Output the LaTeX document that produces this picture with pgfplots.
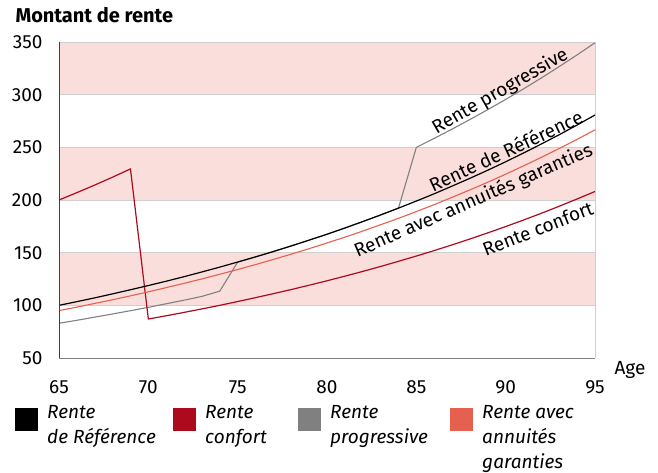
\documentclass[border=0pt]{standalone}
\usepackage{fontspec}
\setmainfont{Fira Sans}
\usepackage{pgfplots}
\usepackage{pgfplotstable}
\pgfplotsset{compat=1.18}
\definecolor{refc}{HTML}{000000}
\definecolor{conf}{HTML}{AE0A1E}
\definecolor{prog}{HTML}{808080}
\definecolor{gar}{HTML}{E5604E}
\definecolor{band}{HTML}{FADEDB}
\definecolor{edge}{HTML}{CFCFCF}

\pgfplotstableread{
age ref gar
65 100.0 95.0
66 103.5 98.3
67 107.1 101.8
68 110.9 105.3
69 114.8 109.0
70 118.8 112.8
71 122.9 116.8
72 127.2 120.9
73 131.7 125.1
74 136.3 129.5
75 141.1 134.0
76 146.0 138.7
77 151.1 143.6
78 156.4 148.6
79 161.9 153.8
80 167.5 159.2
81 173.4 164.7
82 179.5 170.5
83 185.8 176.5
84 192.3 182.6
85 199.0 189.0
86 205.9 195.6
87 213.2 202.5
88 220.6 209.6
89 228.3 216.9
90 236.3 224.5
91 244.6 232.4
92 253.2 240.5
93 262.0 248.9
94 271.2 257.6
95 280.7 266.6
}\tabmain

\pgfplotstableread{
age val
65 200.0
66 207.0
67 214.2
68 221.7
69 229.5
70 87.0
71 90.1
72 93.3
73 96.6
74 100.0
75 103.6
76 107.3
77 111.1
78 115.0
79 119.1
80 123.3
81 127.7
82 132.2
83 136.9
84 141.8
85 146.8
86 152.0
87 157.4
88 163.0
89 168.8
90 174.8
91 181.0
92 187.4
93 194.1
94 201.0
95 208.1
}\tabconf

\pgfplotstableread{
age val
65 83.0
66 85.8
67 88.8
68 91.8
69 94.9
70 98.1
71 101.5
72 104.9
73 108.5
74 113.5
75 141.1
76 146.0
77 151.1
78 156.4
79 161.9
80 167.5
81 173.4
82 179.5
83 185.8
84 192.3
85 250.0
86 258.5
87 267.3
88 276.4
89 285.8
90 295.5
91 305.5
92 315.9
93 326.7
94 337.8
95 349.3
}\tabprog

\begin{document}
\begin{tikzpicture}[x=1pt,y=1pt]
\useasboundingbox (0,0) rectangle (658,472);
\begin{axis}[
  at={(59pt,114pt)}, anchor=south west,
  scale only axis, width=536pt, height=316pt,
  xmin=65, xmax=95, ymin=50, ymax=350,
  axis on top,
  axis x line=bottom, axis y line=left,
  x axis line style={-, draw=black!50, line width=0.8pt},
  y axis line style={-, draw=black!75, line width=0.8pt},
  xtick={65,70,...,95}, ytick={50,100,...,350},
  major tick length=0pt,
  /pgf/number format/assume math mode=true,
  tick label style={font=\fontsize{19}{23}\selectfont},
  xticklabel style={anchor=north, yshift=-19pt},
  yticklabel style={anchor=east, xshift=-13pt},
  clip=false,
  legend columns=4,
  legend style={at={(rel axis cs:-0.082,-0.148)}, anchor=north west,
    draw=none, fill=none, inner sep=0pt, row sep=0pt,
    font=\fontsize{19}{25}\selectfont\itshape,
    cells={anchor=north west},
    /tikz/every odd column/.style={column sep=9pt},
    /tikz/every even column/.style={column sep=0pt},
    nodes={inner sep=0pt}},
  legend image code/.code={\fill[#1] (0pt,-3pt) rectangle (23pt,-26pt);},
]
% background bands
\addplot[fill=band, draw=edge, line width=0.8pt, forget plot] coordinates {(65,300) (95,300) (95,350) (65,350)} -- cycle;
\addplot[fill=band, draw=edge, line width=0.8pt, forget plot] coordinates {(65,200) (95,200) (95,250) (65,250)} -- cycle;
\addplot[fill=band, draw=edge, line width=0.8pt, forget plot] coordinates {(65,100) (95,100) (95,150) (65,150)} -- cycle;
\addplot[draw=edge, line width=0.8pt, forget plot] coordinates {(95,50) (95,350)};

\addlegendimage{fill=refc, draw=none}
\addlegendentry{\parbox[t]{126pt}{Rente\\de Référence}}
\addlegendimage{fill=conf, draw=none}
\addlegendentry{\parbox[t]{93pt}{Rente\\confort}}
\addlegendimage{fill=prog, draw=none}
\addlegendentry{\parbox[t]{120pt}{Rente\\progressive}}
\addlegendimage{fill=gar, draw=none}
\addlegendentry{\parbox[t]{130pt}{Rente avec\\annuités\\garanties}}

\addplot[prog, line width=1.1pt, forget plot] table[x=age, y=val] {\tabprog};
\addplot[conf, line width=1.2pt, forget plot] table[x=age, y=val] {\tabconf};
\addplot[gar, line width=1.1pt, forget plot] table[x=age, y=gar] {\tabmain};
\addplot[refc, line width=1.2pt, forget plot] table[x=age, y=ref] {\tabmain};

\node[rotate=30, font=\fontsize{19}{22}\selectfont] at (axis cs:89.7,303) {Rente progressive};
\node[rotate=25, font=\fontsize{19}{22}\selectfont] at (axis cs:90.0,247) {Rente de Référence};
\node[rotate=23.5, font=\fontsize{19}{22}\selectfont] at (axis cs:88.2,199) {Rente avec annuités garanties};
\node[rotate=21.5, font=\fontsize{19}{22}\selectfont] at (axis cs:91.8,173) {Rente confort};

\node[anchor=center, font=\fontsize{19}{23}\selectfont] at ([xshift=35pt,yshift=-12pt]rel axis cs:1,0) {Age};
\node[anchor=base west, font=\fontsize{20}{24}\selectfont\bfseries] at ([xshift=-47pt,yshift=19pt]rel axis cs:0,1) {Montant de rente};
\end{axis}
\end{tikzpicture}
\end{document}
